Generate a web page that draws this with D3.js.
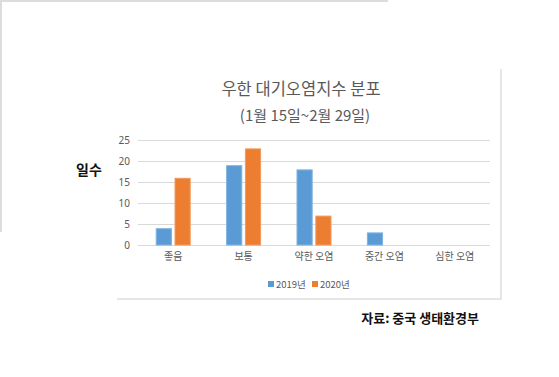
<!DOCTYPE html>
<html><head><meta charset="utf-8">
<script src="https://cdn.jsdelivr.net/npm/d3@7"></script>
<style>
html,body{margin:0;padding:0;background:#fff;}
svg{display:block;}
text{font-family:"Noto Sans CJK KR","Noto Sans",sans-serif;}
</style></head>
<body>
<svg id="c" width="559" height="377"></svg>
<script>
const categories = ["좋음", "보통", "약한 오염", "중간 오염", "심한 오염"];
const seriesNames = ["2019년", "2020년"];
const values2019 = [4, 19, 18, 3, 0];
const values2020 = [16, 23, 7, 0, 0];
const yTicks = [0, 5, 10, 15, 20, 25];
const colors = ["#5B9BD5", "#ED7D31"];
const strokeColors = ["#7FB2E0", "#F29A5E"];

(function () {
const svg = d3.select("#c");

// background panels
svg.append("path").attr("d", "M1,232 V1 H388").attr("fill", "none").attr("stroke", "#dcdcdc").attr("stroke-width", 2);
svg.append("path").attr("d", "M117,299 H501 V69").attr("fill", "none").attr("stroke", "#e6e6e6").attr("stroke-width", 2);

const pL = 138, pR = 490, pT = 140, pB = 245;
const x = d3.scaleBand().domain(categories).range([pL, pR]).paddingInner(0).paddingOuter(0);
const x1 = d3.scaleBand().domain(seriesNames).range([0, 35]).paddingInner(0.14);
const y = d3.scaleLinear().domain([0, 25]).range([pB, pT]);

// gridlines
svg.append("g").selectAll("line").data(yTicks).join("line")
  .attr("x1", pL).attr("x2", pR)
  .attr("y1", d => Math.round(y(d)) + 0.5).attr("y2", d => Math.round(y(d)) + 0.5)
  .attr("stroke", "#d9d9d9").attr("stroke-width", 1);

// y axis labels
const yAxis = d3.axisLeft(y).tickValues(yTicks).tickSize(0).tickPadding(0);
const ya = svg.append("g").attr("transform", `translate(${pL - 8},0)`).call(yAxis);
ya.select(".domain").remove();
ya.selectAll("text").attr("fill", "#595959").style("font-size", "10px").style("font-family", "'Noto Sans','Noto Sans CJK KR',sans-serif");

// x axis labels
const xAxis = d3.axisBottom(x).tickSize(0).tickPadding(0);
const xa = svg.append("g").attr("transform", `translate(0,${pB + 8})`).call(xAxis);
xa.select(".domain").remove();
xa.selectAll("text").attr("fill", "#595959").style("font-size", "10px");

// bars
const data = categories.map((c, i) => ({ c, vals: [values2019[i], values2020[i]] }));
const groups = svg.append("g").selectAll("g").data(data).join("g")
  .attr("transform", d => `translate(${x(d.c) + x.bandwidth() / 2 - 17.5},0)`);
groups.selectAll("rect").data(d => d.vals.map((v, j) => ({ v, j })).filter(e => e.v > 0)).join("rect")
  .attr("x", e => x1(seriesNames[e.j]) + 0.5)
  .attr("y", e => y(e.v) + 0.5)
  .attr("width", x1.bandwidth() - 1)
  .attr("height", e => y(0) - y(e.v) - 0.5)
  .attr("fill", e => colors[e.j])
  .attr("stroke", e => strokeColors[e.j]).attr("stroke-width", 1);

// titles
svg.append("text").attr("x", 301).attr("y", 95).attr("text-anchor", "middle")
  .attr("fill", "#595959").style("font-size", "16.5px").text("우한 대기오염지수 분포");
svg.append("text").attr("x", 305).attr("y", 121).attr("text-anchor", "middle")
  .attr("fill", "#595959").style("font-size", "15px").text("(1월 15일~2월 29일)");

// y axis title
svg.append("text").attr("x", 89).attr("y", 175).attr("text-anchor", "middle")
  .attr("fill", "#111").style("font-size", "14px").style("font-weight", "bold").text("일수");

// legend
const lg = svg.append("g").attr("transform", "translate(268,284)");
const lItems = lg.selectAll("g").data(seriesNames).join("g")
  .attr("transform", (d, i) => `translate(${i * 44},0)`);
lItems.append("rect").attr("x", 0).attr("y", -3).attr("width", 6).attr("height", 6).attr("fill", (d, i) => colors[i]);
lItems.append("text").attr("x", 8).attr("y", 3.5).attr("fill", "#595959").style("font-size", "9.5px").text(d => d);

// source
svg.append("text").attr("x", 479).attr("y", 323).attr("text-anchor", "end")
  .attr("fill", "#111").style("font-size", "13px").style("font-weight", "bold").text("자료: 중국 생태환경부");
})();
</script>
</body></html>
